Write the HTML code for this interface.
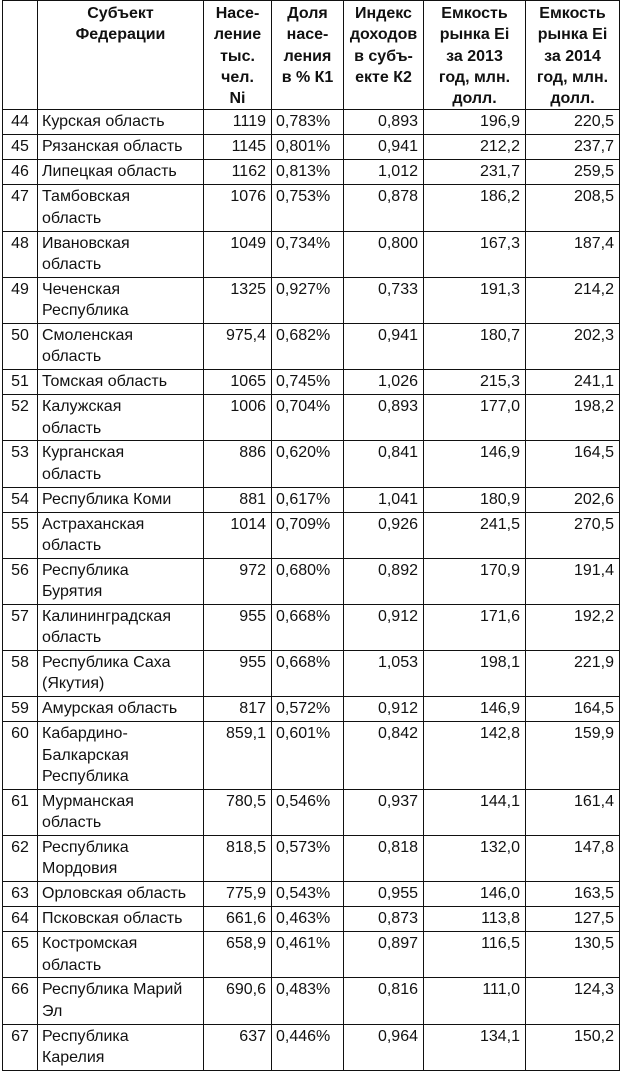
<!DOCTYPE html>
<html><head><meta charset="utf-8"><style>
html,body{margin:0;padding:0;background:#fff;width:621px;height:1074px;overflow:hidden}
table{position:absolute;left:2px;top:0;border-collapse:collapse;table-layout:fixed;font-family:"Liberation Sans","DejaVu Sans",sans-serif;font-size:16px;color:#111}
td,th{border:1.5px solid #111;padding:0 5px;vertical-align:top;line-height:21.3px;overflow:hidden;white-space:nowrap}
th{font-weight:bold;text-align:center;height:106px;padding-top:2px}
td{padding-top:1px}
td.n{text-align:center;padding:1px 2px 0}
td.r{text-align:right}
td.l{text-align:left;padding-left:4px}
tr.a td{height:23px}
tr.b td{height:44.2px}
tr.c td{height:65.5px}
</style></head><body>
<table>
<colgroup><col style="width:35px"><col style="width:166px"><col style="width:68px"><col style="width:72px"><col style="width:80px"><col style="width:102px"><col style="width:94px"></colgroup>
<tr><th></th><th>Субъект<br>Федерации</th><th>Насе-<br>ление<br>тыс.<br>чел.<br>Ni</th><th>Доля<br>насе-<br>ления<br>в % К1</th><th>Индекс<br>доходов<br>в субъ-<br>екте К2</th><th>Емкость<br>рынка Ei<br>за 2013<br>год, млн.<br>долл.</th><th>Емкость<br>рынка Ei<br>за 2014<br>год, млн.<br>долл.</th></tr>
<tr class="a"><td class="n">44</td><td class="l">Курская область</td><td class="r">1119</td><td class="l">0,783%</td><td class="r">0,893</td><td class="r">196,9</td><td class="r">220,5</td></tr>
<tr class="a"><td class="n">45</td><td class="l">Рязанская область</td><td class="r">1145</td><td class="l">0,801%</td><td class="r">0,941</td><td class="r">212,2</td><td class="r">237,7</td></tr>
<tr class="a"><td class="n">46</td><td class="l">Липецкая область</td><td class="r">1162</td><td class="l">0,813%</td><td class="r">1,012</td><td class="r">231,7</td><td class="r">259,5</td></tr>
<tr class="b"><td class="n">47</td><td class="l">Тамбовская<br>область</td><td class="r">1076</td><td class="l">0,753%</td><td class="r">0,878</td><td class="r">186,2</td><td class="r">208,5</td></tr>
<tr class="b"><td class="n">48</td><td class="l">Ивановская<br>область</td><td class="r">1049</td><td class="l">0,734%</td><td class="r">0,800</td><td class="r">167,3</td><td class="r">187,4</td></tr>
<tr class="b"><td class="n">49</td><td class="l">Чеченская<br>Республика</td><td class="r">1325</td><td class="l">0,927%</td><td class="r">0,733</td><td class="r">191,3</td><td class="r">214,2</td></tr>
<tr class="b"><td class="n">50</td><td class="l">Смоленская<br>область</td><td class="r">975,4</td><td class="l">0,682%</td><td class="r">0,941</td><td class="r">180,7</td><td class="r">202,3</td></tr>
<tr class="a"><td class="n">51</td><td class="l">Томская область</td><td class="r">1065</td><td class="l">0,745%</td><td class="r">1,026</td><td class="r">215,3</td><td class="r">241,1</td></tr>
<tr class="b"><td class="n">52</td><td class="l">Калужская<br>область</td><td class="r">1006</td><td class="l">0,704%</td><td class="r">0,893</td><td class="r">177,0</td><td class="r">198,2</td></tr>
<tr class="b"><td class="n">53</td><td class="l">Курганская<br>область</td><td class="r">886</td><td class="l">0,620%</td><td class="r">0,841</td><td class="r">146,9</td><td class="r">164,5</td></tr>
<tr class="a"><td class="n">54</td><td class="l">Республика Коми</td><td class="r">881</td><td class="l">0,617%</td><td class="r">1,041</td><td class="r">180,9</td><td class="r">202,6</td></tr>
<tr class="b"><td class="n">55</td><td class="l">Астраханская<br>область</td><td class="r">1014</td><td class="l">0,709%</td><td class="r">0,926</td><td class="r">241,5</td><td class="r">270,5</td></tr>
<tr class="b"><td class="n">56</td><td class="l">Республика<br>Бурятия</td><td class="r">972</td><td class="l">0,680%</td><td class="r">0,892</td><td class="r">170,9</td><td class="r">191,4</td></tr>
<tr class="b"><td class="n">57</td><td class="l">Калининградская<br>область</td><td class="r">955</td><td class="l">0,668%</td><td class="r">0,912</td><td class="r">171,6</td><td class="r">192,2</td></tr>
<tr class="b"><td class="n">58</td><td class="l">Республика Саха<br>(Якутия)</td><td class="r">955</td><td class="l">0,668%</td><td class="r">1,053</td><td class="r">198,1</td><td class="r">221,9</td></tr>
<tr class="a"><td class="n">59</td><td class="l">Амурская область</td><td class="r">817</td><td class="l">0,572%</td><td class="r">0,912</td><td class="r">146,9</td><td class="r">164,5</td></tr>
<tr class="c"><td class="n">60</td><td class="l">Кабардино-<br>Балкарская<br>Республика</td><td class="r">859,1</td><td class="l">0,601%</td><td class="r">0,842</td><td class="r">142,8</td><td class="r">159,9</td></tr>
<tr class="b"><td class="n">61</td><td class="l">Мурманская<br>область</td><td class="r">780,5</td><td class="l">0,546%</td><td class="r">0,937</td><td class="r">144,1</td><td class="r">161,4</td></tr>
<tr class="b"><td class="n">62</td><td class="l">Республика<br>Мордовия</td><td class="r">818,5</td><td class="l">0,573%</td><td class="r">0,818</td><td class="r">132,0</td><td class="r">147,8</td></tr>
<tr class="a"><td class="n">63</td><td class="l">Орловская область</td><td class="r">775,9</td><td class="l">0,543%</td><td class="r">0,955</td><td class="r">146,0</td><td class="r">163,5</td></tr>
<tr class="a"><td class="n">64</td><td class="l">Псковская область</td><td class="r">661,6</td><td class="l">0,463%</td><td class="r">0,873</td><td class="r">113,8</td><td class="r">127,5</td></tr>
<tr class="b"><td class="n">65</td><td class="l">Костромская<br>область</td><td class="r">658,9</td><td class="l">0,461%</td><td class="r">0,897</td><td class="r">116,5</td><td class="r">130,5</td></tr>
<tr class="b"><td class="n">66</td><td class="l">Республика Марий<br>Эл</td><td class="r">690,6</td><td class="l">0,483%</td><td class="r">0,816</td><td class="r">111,0</td><td class="r">124,3</td></tr>
<tr class="b"><td class="n">67</td><td class="l">Республика<br>Карелия</td><td class="r">637</td><td class="l">0,446%</td><td class="r">0,964</td><td class="r">134,1</td><td class="r">150,2</td></tr>
</table>
</body></html>
